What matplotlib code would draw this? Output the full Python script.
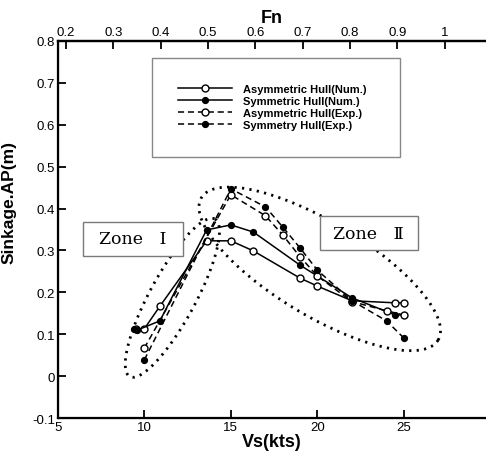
import numpy as np
import matplotlib
matplotlib.use("Agg")
import matplotlib.pyplot as plt
from matplotlib.patches import Rectangle

plt.rcParams['font.family'] = ['Liberation Sans', 'DejaVu Sans']

# ship speed (kts) and sinkage at AP (m)
vs_asym_num = [9.5, 10, 10.9, 13.6, 15, 16.3, 19, 20, 22, 24.5, 25]
sk_asym_num = [0.113, 0.113, 0.167, 0.323, 0.323, 0.299, 0.234, 0.215, 0.18, 0.175, 0.175]

vs_sym_num = [9.4, 9.6, 10.9, 13.6, 15, 16.3, 19, 22, 24.5, 25]
sk_sym_num = [0.113, 0.11, 0.132, 0.349, 0.361, 0.344, 0.265, 0.187, 0.146, 0.146]

vs_asym_exp = [10, 15, 17, 18, 19, 20, 22, 24, 25]
sk_asym_exp = [0.067, 0.433, 0.383, 0.337, 0.285, 0.239, 0.178, 0.156, 0.146]

vs_sym_exp = [10, 15, 17, 18, 19, 20, 22, 24, 25]
sk_sym_exp = [0.039, 0.447, 0.404, 0.356, 0.306, 0.253, 0.18, 0.132, 0.091]

labels = ['Asymmetric Hull(Num.)', 'Symmetric Hull(Num.)',
          'Asymmetric Hull(Exp.)', 'Symmetry Hull(Exp.)']

fn_ticks = [0.2, 0.3, 0.4, 0.5, 0.6, 0.7, 0.8, 0.9, 1]
fn_per_kt = 0.03655   # Froude number per knot

fig = plt.figure(figsize=(4.86, 4.56), dpi=100)
ax = fig.add_axes([0.119, 0.081, 0.881, 0.827])

lw = 1.1
ax.plot(vs_asym_num, sk_asym_num, '-', color='black', lw=lw, marker='o', ms=5,
        mfc='white', mec='black', mew=1.0, label=labels[0], zorder=4)
ax.plot(vs_sym_num, sk_sym_num, '-', color='black', lw=lw, marker='o', ms=4.2,
        mfc='black', mec='black', label=labels[1], zorder=4)
ax.plot(vs_asym_exp, sk_asym_exp, color='black', lw=lw, ls=(0, (4, 2.5)), marker='o', ms=5,
        mfc='white', mec='black', mew=1.0, label=labels[2], zorder=4)
ax.plot(vs_sym_exp, sk_sym_exp, color='black', lw=lw, ls=(0, (4, 2.5)), marker='o', ms=4.2,
        mfc='black', mec='black', label=labels[3], zorder=4)

# dotted zone outlines: centre + cos(t)*u + sin(t)*v, vectors in data units
t = np.linspace(0, 2 * np.pi, 300)
def zone_outline(c, u, v):
    x = c[0] + np.cos(t) * u[0] + np.sin(t) * v[0]
    y = c[1] + np.cos(t) * u[1] + np.sin(t) * v[1]
    ax.plot(x, y, color='black', lw=2.0, ls=(0, (0.8, 1.9)), zorder=2)

zone_outline((11.62, 0.187), (2.46, 0.188), (1.17, -0.026))
zone_outline((20.14, 0.256), (6.84, -0.170), (1.40, 0.096))

# zone label boxes
zfont = ['DejaVu Serif', 'Noto Sans CJK SC']
for (x0, y0, x1, y1), txt in [((6.45, 0.287, 12.23, 0.368), 'Zone   \u2160'),
                              ((20.14, 0.301, 25.8, 0.382), 'Zone   \u2161')]:
    ax.add_patch(Rectangle((x0, y0), x1 - x0, y1 - y0, fc='white', ec='#7a7a7a',
                           lw=1.0, zorder=6))
    ax.text((x0 + x1) / 2, (y0 + y1) / 2, txt, family=zfont, fontsize=12.5,
            ha='center', va='center', zorder=7)

ax.set_xlim(5, 29.75)
ax.set_ylim(-0.1, 0.8)
ax.set_xticks([5, 10, 15, 20, 25])
ax.set_yticks(np.arange(-0.1, 0.81, 0.1))
ax.yaxis.set_major_formatter(plt.FuncFormatter(lambda v, p: '%g' % round(v, 2)))
ax.tick_params(direction='in', length=6, width=1.3, labelsize=9.5, pad=2)
ax.set_xlabel('Vs(kts)', fontsize=13, fontweight='bold', labelpad=0)
ax.set_ylabel('Sinkage.AP(m)', fontsize=12.5, fontweight='bold')
ax.yaxis.set_label_coords(-0.096, 0.575)
for s in ['left', 'bottom', 'top']:
    ax.spines[s].set_linewidth(1.6)
ax.spines['right'].set_visible(False)

ax2 = ax.twiny()
ax2.set_xlim(5 * fn_per_kt, 29.75 * fn_per_kt)
ax2.set_xticks(fn_ticks)
ax2.xaxis.set_major_formatter(plt.FuncFormatter(lambda v, p: '%g' % v))
ax2.tick_params(direction='in', length=6, width=1.3, labelsize=9.5, pad=2)
ax2.set_xlabel('Fn', fontsize=13, fontweight='bold', labelpad=3)
ax2.spines['right'].set_visible(False)
ax2.spines['top'].set_linewidth(1.6)

fig.patches.append(Rectangle((0.313, 0.6535), 0.51, 0.217, transform=fig.transFigure,
                             fill=False, ec='#888888', lw=1.0))
ax.legend(loc='upper left', bbox_to_anchor=(0.345, 0.836), bbox_transform=fig.transFigure,
          frameon=False, numpoints=1, handlelength=4.9, handletextpad=0.95,
          labelspacing=0.18, prop={'weight': 'bold', 'size': 8})

fig.savefig('out.png', dpi=100)
